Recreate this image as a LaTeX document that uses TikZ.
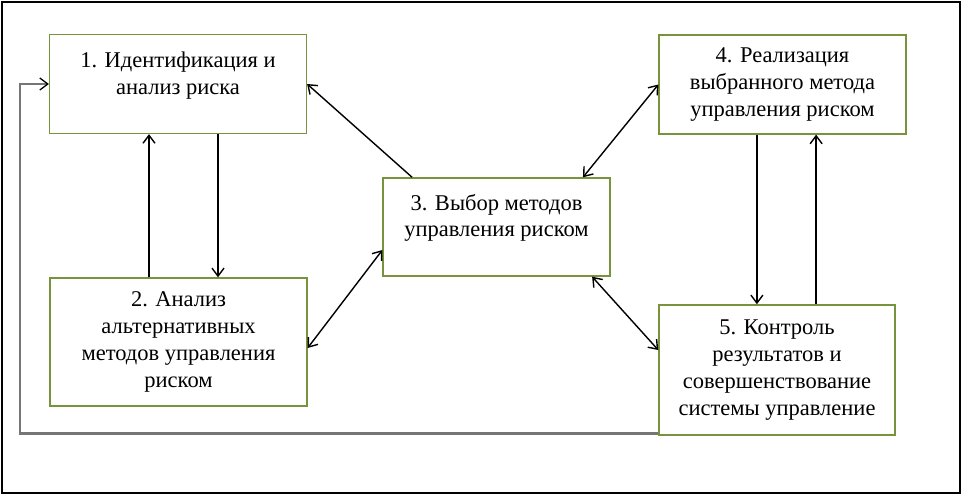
\documentclass[tikz,border=0pt]{standalone}
\usepackage{fontspec}
\setmainfont{Liberation Serif}
\usetikzlibrary{calc, positioning}
\usetikzlibrary{arrows.meta}
\definecolor{boxgreen}{RGB}{119,147,60}
\definecolor{loopgray}{RGB}{118,118,118}

\begin{document}
\begin{tikzpicture}[x=0.025cm, y=-0.025cm,
  stage/.style={draw=boxgreen, line width=1pt, align=center, inner sep=0pt,
    font=\fontsize{16}{19}\selectfont},
  oneway/.style={line width=1pt, -{Straight Barb[length=2mm, width=3mm]}},
  twoway/.style={line width=1pt, {Straight Barb[length=2mm, width=3mm]}-{Straight Barb[length=2mm, width=3mm]}},
  feedback/.style={draw=loopgray, line width=1.8pt, -{Straight Barb[length=2mm, width=3mm, line width=0.9pt, color=black]}}]
\useasboundingbox (0,0) rectangle (964,495);
\draw[line width=1.4pt] (2,2) rectangle (960,493);

\node[stage, minimum width=6.42cm, minimum height=2.47cm, text depth=0.54cm] (ident) at (178,84)
  {1. Идентификация и\\анализ риска};
\node[stage, minimum width=6.42cm, minimum height=3.2cm] (alt) at (178.5,342)
  {2. Анализ\\альтернативных\\методов управления\\риском};
\node[stage, minimum width=5.67cm, minimum height=2.45cm, text depth=0.58cm] (choice) at (496.5,227)
  {3. Выбор методов\\управления риском};
\node[stage, minimum width=6.17cm, minimum height=2.47cm] (impl) at (782.5,84.5)
  {4. Реализация\\выбранного метода\\управления риском};
\node[stage, minimum width=5.9cm, minimum height=3.25cm] (ctrl) at (777,370)
  {5. Контроль\\результатов и\\совершенствование\\системы управление};

\coordinate (loopx) at (20,0);

\draw[oneway] ([xshift=1cm]ident.south) -- ([xshift=1cm]ident.south |- alt.north);
\draw[oneway] ([xshift=-0.725cm]ident.south |- alt.north) -- ([xshift=-0.725cm]ident.south);
\draw[oneway] ([xshift=-2.11cm]choice.north) -- (ident.east);
\draw[twoway] ([yshift=-0.575cm]choice.west) -- ([yshift=-0.15cm]alt.east);
\draw[twoway] ([xshift=2.16cm]choice.north) -- (impl.west);
\draw[twoway] ([xshift=2.39cm]choice.south) -- ([yshift=0.5cm]ctrl.west);
\draw[oneway] ([xshift=-0.64cm]impl.south) -- ([xshift=-0.64cm]impl.south |- ctrl.north);
\draw[oneway] ([xshift=0.84cm]impl.south |- ctrl.north) -- ([xshift=0.84cm]impl.south);

\draw[feedback] ([yshift=0.05cm]ctrl.south west) -- ([yshift=0.05cm]ctrl.south west -| loopx) |- (ident.west);
\end{tikzpicture}
\end{document}
